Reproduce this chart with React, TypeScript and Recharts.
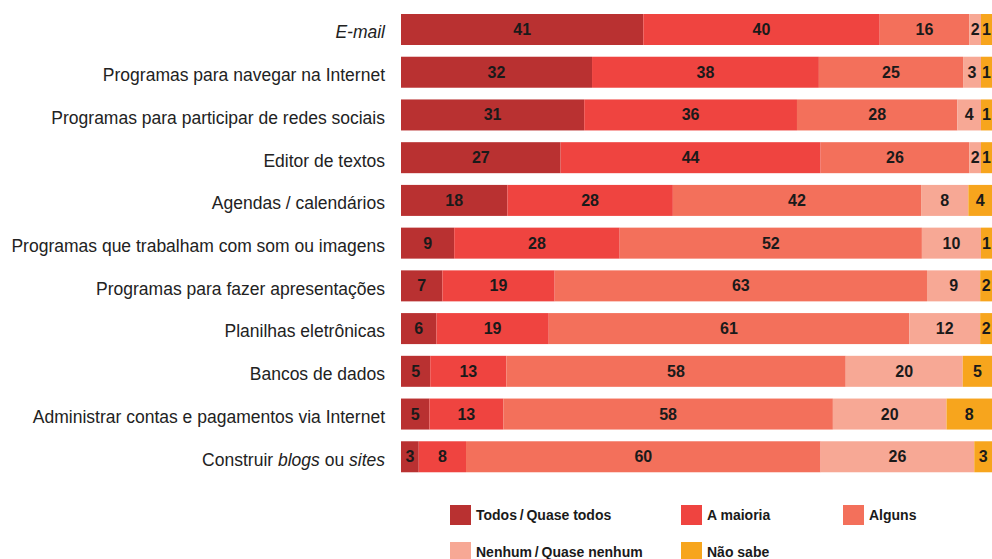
import { BarChart, Bar, XAxis, YAxis, LabelList } from "recharts";

const categories = [
  "E-mail",
  "Programas para navegar na Internet",
  "Programas para participar de redes sociais",
  "Editor de textos",
  "Agendas / calendários",
  "Programas que trabalham com som ou imagens",
  "Programas para fazer apresentações",
  "Planilhas eletrônicas",
  "Bancos de dados",
  "Administrar contas e pagamentos via Internet",
  "Construir blogs ou sites",
];

const todos = [41, 32, 31, 27, 18, 9, 7, 6, 5, 5, 3];
const maioria = [40, 38, 36, 44, 28, 28, 19, 19, 13, 13, 8];
const alguns = [16, 25, 28, 26, 42, 52, 63, 61, 58, 58, 60];
const nenhum = [2, 3, 4, 2, 8, 10, 9, 12, 20, 20, 26];
const naoSabe = [1, 1, 1, 1, 4, 1, 2, 2, 5, 8, 3];

const italicWords = ["E-mail", "blogs", "sites"];

const series = [
  { key: "todos", name: "Todos\u2009/\u2009Quase todos", color: "#B93131", values: todos },
  { key: "maioria", name: "A maioria", color: "#EF4440", values: maioria },
  { key: "alguns", name: "Alguns", color: "#F3705B", values: alguns },
  { key: "nenhum", name: "Nenhum\u2009/\u2009Quase nenhum", color: "#F7A895", values: nenhum },
  { key: "naoSabe", name: "Não sabe", color: "#F7A51D", values: naoSabe },
];

const data = categories.map((name, i) => ({
  name,
  todos: todos[i],
  maioria: maioria[i],
  alguns: alguns[i],
  nenhum: nenhum[i],
  naoSabe: naoSabe[i],
}));

// legend slots, as laid out in the reference (two rows)
const legendPos = [
  { left: 450, top: 505 },
  { left: 681, top: 505 },
  { left: 843, top: 505 },
  { left: 450, top: 542 },
  { left: 681, top: 542 },
];

const labelFont = "'Liberation Sans', Arial, sans-serif";
const MIN_W = 11; // the last two segments stay readable, as in the original

// segment extents for one row, starting from the geometry recharts gave segment k
function rowExtents(k: number, index: number, x: number, width: number) {
  const v = series[k].values[index];
  const unit = width / v;
  const natural: number[][] = [];
  let left = x;
  for (let j = 0; j < k; j++) left -= series[j].values[index] * unit;
  for (let j = 0; j < series.length; j++) {
    const w = series[j].values[index] * unit;
    natural.push([left, left + w]);
    left += w;
  }
  const right = natural[series.length - 1][1];
  const nao = natural[4][1] - natural[4][0];
  const naoLeft = right - Math.max(nao, MIN_W);
  const nen = natural[3][1] - natural[3][0];
  const nenLeft = naoLeft - Math.max(nen, MIN_W);
  return [natural[0], natural[1], [natural[2][0], nenLeft], [nenLeft, naoLeft], [naoLeft, right]];
}

function makeShape(k: number) {
  return (p: any) => {
    const ext = rowExtents(k, p.index, p.x, p.width)[k];
    return <rect x={ext[0]} y={p.y} width={ext[1] - ext[0]} height={p.height} fill={p.fill} />;
  };
}

function makeLabel(k: number) {
  return (p: any) => {
    const ext = rowExtents(k, p.index, p.x, p.width)[k];
    return (
      <text
        x={(ext[0] + ext[1]) / 2}
        y={p.y + p.height / 2}
        dy={5.5}
        textAnchor="middle"
        fill="#1a1a1a"
        fontSize={16}
        fontWeight={700}
        fontFamily={labelFont}
      >
        {p.value}
      </text>
    );
  };
}

function CategoryTick(props: any) {
  const { x, y, payload } = props;
  const words = String(payload.value).split(" ");
  return (
    <text
      x={x - 8}
      y={y}
      dy={9}
      textAnchor="end"
      fontSize={17.5}
      fontFamily={labelFont}
      fill="#222"
    >
      {words.map((w, i) => (
        <tspan key={i} fontStyle={italicWords.includes(w) ? "italic" : "normal"}>
          {(i > 0 ? " " : "") + w}
        </tspan>
      ))}
    </text>
  );
}

function ChartLegend() {
  return (
    <>
      {series.map((s, i) => (
        <div
          key={s.key}
          style={{
            position: "absolute",
            left: legendPos[i].left,
            top: legendPos[i].top,
            display: "flex",
            alignItems: "center",
            fontFamily: labelFont,
            fontWeight: 700,
            fontSize: 14,
            color: "#1a1a1a",
            whiteSpace: "nowrap",
          }}
        >
          <span
            style={{
              display: "inline-block",
              width: 21,
              height: 20,
              background: s.color,
              marginRight: 5,
            }}
          />
          {s.name}
        </div>
      ))}
    </>
  );
}

export default function App() {
  return (
    <div style={{ position: "absolute", left: 0, top: 0, width: 992, height: 559 }}>
      <BarChart
        width={992}
        height={559}
        data={data}
        layout="vertical"
        stackOffset="expand"
        barSize={31}
        margin={{ top: 8, right: 0, bottom: 81, left: 0 }}
      >
        <XAxis type="number" hide domain={[0, 1]} />
        <YAxis
          type="category"
          dataKey="name"
          width={401}
          axisLine={false}
          tickLine={false}
          interval={0}
          tick={<CategoryTick />}
        />
        {series.map((s, k) => (
          <Bar
            key={s.key}
            dataKey={s.key}
            name={s.name}
            stackId="a"
            fill={s.color}
            shape={makeShape(k)}
            isAnimationActive={false}
          >
            <LabelList dataKey={s.key} content={makeLabel(k)} />
          </Bar>
        ))}
      </BarChart>
      <ChartLegend />
    </div>
  );
}
